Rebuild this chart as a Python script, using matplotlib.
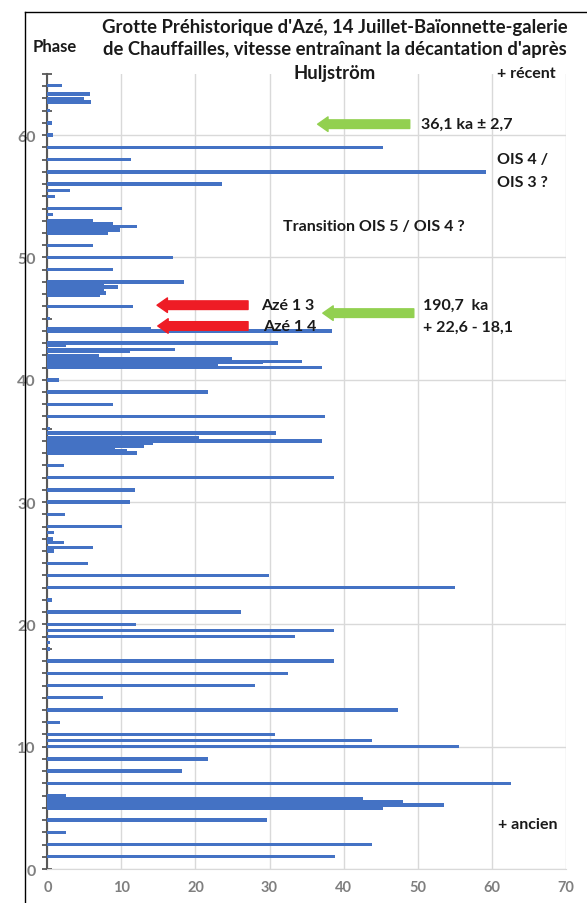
import matplotlib
matplotlib.use('Agg')
import matplotlib.pyplot as plt
from matplotlib.lines import Line2D
from matplotlib.ticker import MultipleLocator

plt.rcParams['font.family'] = ['Lato', 'DejaVu Sans']

# phase (y) and vitesse (x), top to bottom
phase = [64.05, 63.35, 63.0, 62.7, 62.0, 61.0, 60.0, 59.0, 58.0, 57.0, 56.0, 55.5, 55.0, 54.0,
         53.5, 53.0, 52.8, 52.55, 52.25, 52.0, 51.0, 50.0, 49.0, 48.0, 47.85, 47.6, 47.3, 47.1, 46.9,
         46.0, 45.0, 44.15, 44.0, 43.0, 42.8, 42.5, 42.3, 42.0, 41.7, 41.5, 41.4, 41.2, 41.0,
         40.0, 39.0, 38.0, 37.0, 36.0, 35.65, 35.3, 35.0, 34.8, 34.6, 34.4, 34.2, 34.0,
         33.0, 32.0, 31.0, 30.0, 29.0, 28.0, 27.5, 27.0, 26.7, 26.3, 26.0, 25.0, 24.0, 23.0,
         22.0, 21.0, 20.0, 19.5, 19.0, 18.5, 18.0, 17.0, 16.0, 15.0, 14.0, 13.0, 12.0, 11.0,
         10.5, 10.0, 9.0, 8.0, 7.0, 6.0, 5.75, 5.5, 5.25, 5.0, 4.0, 3.0, 2.0, 1.0]
vitesse = [1.9, 5.8, 5.0, 5.9, 0.3, 0.6, 0.7, 45.3, 11.35, 59.2, 23.6, 3.0, 1.0, 10.1,
           0.7, 6.2, 8.8, 12.1, 9.8, 8.15, 6.2, 16.9, 8.8, 18.5, 7.6, 9.5, 7.7, 7.9, 7.1,
           11.5, 0.3, 14.0, 38.4, 31.2, 2.5, 17.2, 11.1, 7.0, 25.0, 34.4, 29.1, 23.0, 37.1,
           1.5, 21.7, 8.8, 37.5, 0.3, 30.9, 20.5, 37.1, 14.3, 13.0, 9.1, 10.7, 12.1,
           2.2, 38.7, 11.8, 11.2, 2.4, 10.1, 0.9, 0.8, 2.25, 6.2, 0.9, 5.5, 29.9, 55.1,
           0.6, 26.2, 12.0, 38.7, 33.4, 0.3, 0.4, 38.7, 32.5, 28.1, 7.5, 47.4, 1.75, 30.8,
           43.9, 55.6, 21.7, 18.2, 62.6, 2.5, 42.6, 48.1, 53.6, 45.3, 29.6, 2.5, 43.9, 38.8]

# arrows: (y, x tail, x head, colour)
arrow_y = [60.9, 46.1, 44.4, 45.45]
arrow_tail = [48.95, 27.1, 27.1, 49.5]
arrow_head = [36.5, 14.8, 14.9, 37.2]
arrow_col = ['#92D050', '#EE1C25', '#EE1C25', '#92D050']

fig = plt.figure(figsize=(5.87, 9.04), dpi=100)
ax = fig.add_axes([0.0809, 0.0376, 0.8825, 0.8794])

ax.barh(phase, vitesse, height=0.28, color='#4472C4', zorder=3)

ax.set_xlim(0, 70)
ax.set_ylim(0, 65)
ax.xaxis.set_major_locator(MultipleLocator(10))
ax.yaxis.set_major_locator(MultipleLocator(10))
ax.yaxis.set_minor_locator(MultipleLocator(1))
ax.grid(True, color='#D9D9D9', lw=1, zorder=0)
ax.set_axisbelow(True)

for s in ['top', 'right']:
    ax.spines[s].set_visible(False)
ax.spines['bottom'].set_color('#D9D9D9')
ax.spines['left'].set_color('#595959')
ax.spines['left'].set_linewidth(1.5)

ax.tick_params(axis='x', length=0, pad=8, labelsize=10.5, labelcolor='#7F7F7F')
ax.tick_params(axis='y', which='both', direction='inout', length=7, width=1.3,
               color='#595959', pad=5, labelsize=11.5, labelcolor='#7F7F7F')
for lab in ax.get_xticklabels() + ax.get_yticklabels():
    lab.set_fontweight('bold')

for y, x0, x1, c in zip(arrow_y, arrow_tail, arrow_head, arrow_col):
    ax.annotate('', xy=(x1, y), xytext=(x0, y), zorder=5,
                arrowprops=dict(arrowstyle='simple,head_width=1.05,head_length=0.75,tail_width=0.62',
                                color=c, shrinkA=0, shrinkB=0, mutation_scale=10))

tkw = dict(fontsize=11.5, fontweight='bold', color='#1a1a1a', va='center', zorder=6)
ax.text(50.5, 60.9, '36,1 ka ± 2,7', **tkw)
ax.text(60.7, 58.05, 'OIS 4 /', **tkw)
ax.text(60.7, 56.2, 'OIS 3 ?', **tkw)
ax.text(44.1, 52.6, 'Transition OIS 5 / OIS 4 ?', ha='center', **tkw)
ax.text(28.8, 46.1, 'Azé 1 3', **tkw)
ax.text(29.2, 44.4, 'Azé 1 4', **tkw)
ax.text(50.7, 46.1, '190,7  ka', **tkw)
ax.text(50.7, 44.3, '+ 22,6 - 18,1', **tkw)
ax.text(60.9, 3.7, '+ ancien', **tkw)
ax.text(60.7, 65.1, '+ récent', clip_on=False, **tkw)

# title and axis name
tt = dict(ha='center', va='center', fontsize=13.3, fontweight='bold', color='#1a1a1a')
fig.text(335/587, 1-27/904, "Grotte Préhistorique d'Azé, 14 Juillet-Baïonnette-galerie", **tt)
fig.text(335/587, 1-50/904, "de Chauffailles, vitesse entraînant la décantation d'après", **tt)
fig.text(335/587, 1-74/904, "Huljström", **tt)
fig.text(55/587, 1-47/904, 'Phase', ha='center', va='center', fontsize=12,
         fontweight='bold', color='#1a1a1a')

# chart frame
fig.add_artist(Line2D([25/587, 25/587], [0, 1-13/904], color='black', lw=1))
fig.add_artist(Line2D([25/587, 1], [1-13/904, 1-13/904], color='black', lw=1))

fig.savefig('out.png', dpi=100)
